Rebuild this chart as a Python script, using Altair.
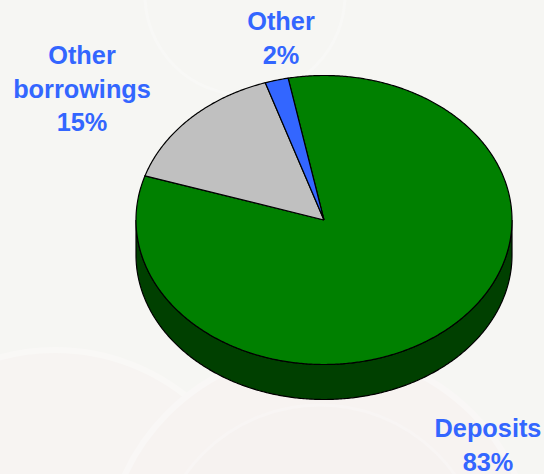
import altair as alt
import numpy as np
import pandas as pd

# Funding mix, in percent of the total
names = ["Deposits", "Other borrowings", "Other"]
shares = [83, 15, 2]
colors = ["#008000", "#C0C0C0", "#3366FF"]

WIDTH, HEIGHT = 544, 474
CX, CY, RX, RY, DEPTH = 324, 220, 188, 144.5, 35
START_DEG = -11  # clockwise from twelve o'clock, where the first slice begins
FONT = "Liberation Sans"
LABEL_BLUE = "#3366FF"

x_scale = alt.Scale(domain=[-CX / RX, (WIDTH - CX) / RX], range=[0, WIDTH], nice=False, zero=False)
y_scale = alt.Scale(domain=[CY / RY, -(HEIGHT - CY) / RY], range=[0, HEIGHT], nice=False, zero=False)


def outline(points):
    frame = pd.DataFrame(points, columns=["px", "py"])
    frame["i"] = range(len(frame))
    return frame


def arc(a0, a1, drop=0.0):
    angles = np.radians(np.linspace(a0, a1, max(int(abs(a1 - a0)) * 2, 8)))
    return list(zip(np.sin(angles), np.cos(angles) - drop))


def polygon(frame, color):
    return (
        alt.Chart(frame)
        .mark_line(fill=color, stroke="black", strokeWidth=1.2, interpolate="linear", clip=True)
        .encode(
            x=alt.X("px:Q", scale=x_scale, axis=None),
            y=alt.Y("py:Q", scale=y_scale, axis=None),
            order="i:Q",
        )
    )


def backdrop(x, y, r, fill, stroke, width=6):
    return alt.Chart(pd.DataFrame({"a": [0]})).mark_arc(
        theta=0, theta2=2 * np.pi, radius=r, fill=fill, stroke=stroke, strokeWidth=width, clip=True
    ).encode(x=alt.value(x), y=alt.value(y))


# Faded coins behind the pie
layers = [
    backdrop(55, 560, 210, "#F7F4F2", "#F9F8F6"),
    backdrop(320, 565, 215, "#F7F3F1", "#F9F7F6"),
    backdrop(320, 570, 165, "#F6F2F0", "#F8F5F4", 3),
    backdrop(245, -5, 100, "#F6F6F3", "#F8F8F6", 3),
]

# Side wall: the front half of the rim, dropped by the pie's depth
rim_drop = DEPTH / RY
wall = arc(90, 270) + arc(270, 90, rim_drop)
layers.append(polygon(outline(wall + wall[:1]), "#004000"))

# Top face: slices run clockwise from the starting angle
angle = START_DEG
for share, color in zip(shares, colors):
    sweep = share / sum(shares) * 360
    points = [(0.0, 0.0)] + arc(angle, angle + sweep) + [(0.0, 0.0)]
    layers.append(polygon(outline(points), color))
    angle += sweep


def label(text, x, y):
    return alt.Chart(pd.DataFrame({"t": [text]})).mark_text(
        font=FONT,
        fontSize=25.3,
        fontWeight="bold",
        color=LABEL_BLUE,
        align="center",
        baseline="alphabetic",
        lineBreak="\n",
        lineHeight=33.5,
    ).encode(x=alt.value(x), y=alt.value(y), text="t:N")


layers += [
    label(f"{names[0]}\n{shares[0]}%", 488, 437),
    label("Other\nborrowings\n" + f"{shares[1]}%", 82, 64),
    label(f"{names[2]}\n{shares[2]}%", 281, 30),
]

chart = (
    alt.layer(*layers)
    .properties(
        width=WIDTH,
        height=HEIGHT,
        padding=0,
        autosize=alt.AutoSizeParams(type="none"),
        background="#F6F6F3",
    )
    .configure_view(stroke=None)
)

chart.save("out.html", embed_options={"renderer": "svg", "actions": False})
